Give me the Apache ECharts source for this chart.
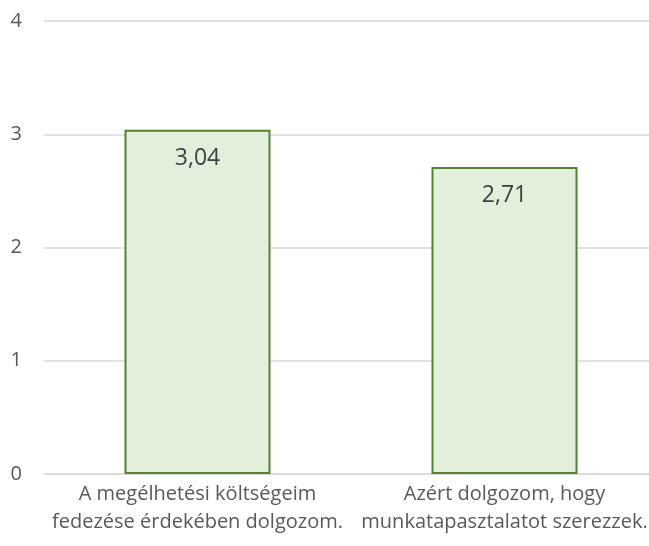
<!DOCTYPE html>
<html>
<head>
<meta charset="utf-8">
<script src="https://cdn.jsdelivr.net/npm/echarts@6/dist/echarts.min.js"></script>
<style>
    html,body{margin:0;padding:0;background:#fff;}
    #chart{width:649px;height:546px;}
</style>
</head>
<body>
<div id="chart"></div>
<script>
    var categories = ['A megélhetési költségeim\nfedezése érdekében dolgozom.', 'Azért dolgozom, hogy\nmunkatapasztalatot szerezzek.'];
    var values = [3.04, 2.71];
    var yTicks = [0, 1, 2, 3, 4];

    var chart = echarts.init(document.getElementById('chart'));
    chart.setOption({
        animation: false,
        grid: {left: 44, width: 614, top: 21, bottom: 72, outerBoundsMode: 'none'},
        xAxis: {
            type: 'category',
            data: categories,
            axisLine: {lineStyle: {color: '#d9d9d9', width: 1.5}},
            axisTick: {show: false},
            axisLabel: {
                color: '#595959',
                fontSize: 20,
                fontFamily: 'Open Sans',
                lineHeight: 28,
                margin: 6,
                interval: 0,
                hideOverlap: false
            }
        },
        yAxis: {
            type: 'value',
            min: yTicks[0],
            max: yTicks[yTicks.length - 1],
            interval: 1,
            axisLine: {show: false},
            axisTick: {show: false},
            splitLine: {lineStyle: {color: '#d9d9d9', width: 1.5}},
            axisLabel: {
                color: '#595959',
                fontSize: 20,
                fontFamily: 'Open Sans',
                margin: 22
            }
        },
        series: [{
            type: 'bar',
            data: values,
            barWidth: 146,
            itemStyle: {color: '#e2efda', borderColor: '#548235', borderWidth: 2},
            label: {
                show: true,
                position: 'insideTop',
                distance: 17,
                color: '#404040',
                fontSize: 23,
                fontFamily: 'Open Sans',
                formatter: function (p) { return p.value.toFixed(2).replace('.', ','); }
            }
        }]
    });
</script>
</body>
</html>
